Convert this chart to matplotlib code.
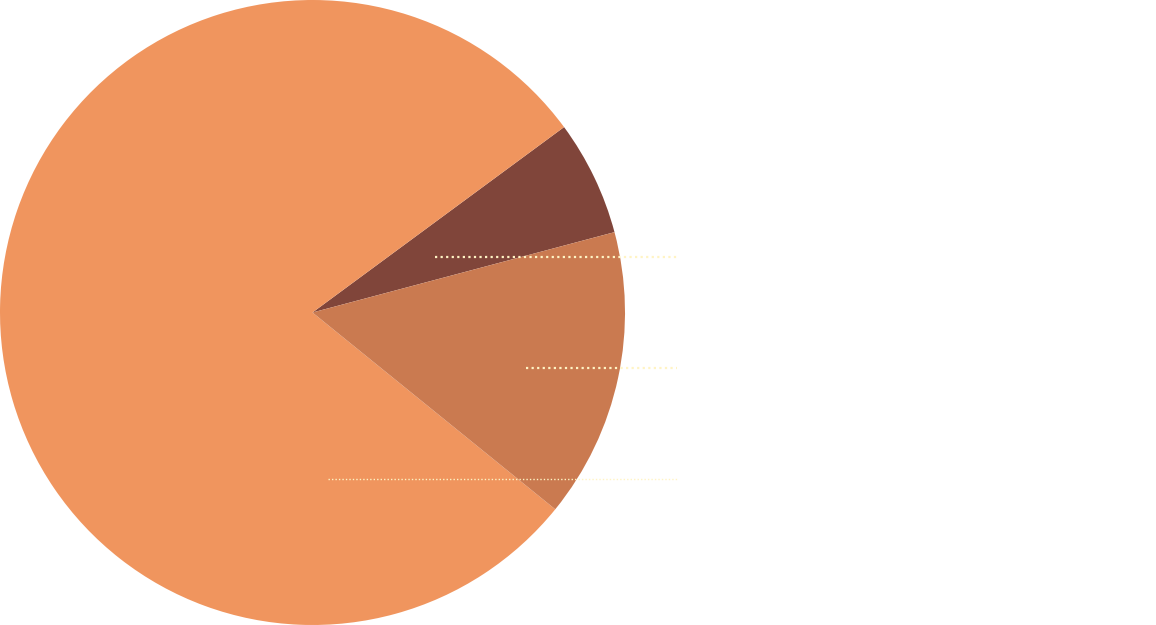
import matplotlib.pyplot as plt

# slice shares (percent), counter-clockwise from start angle
sizes = [5.97, 79.05, 14.98]
colors = ['#80453a', '#f0955e', '#ca7a50']
start = 14.9

# leader lines: (x start, y level) in pie units, all end at x_end
lead_x = [0.393, 0.684, 0.048]
lead_y = [0.179, -0.179, -0.533]
lead_w = [1.6, 1.6, 1.0]
x_end = 1.165

fig = plt.figure(figsize=(11.56, 6.25), dpi=100)
ax = fig.add_axes([0, 0, 1, 1])
ax.pie(sizes, colors=colors, startangle=start, counterclock=True,
       radius=1, center=(0, 0), wedgeprops=dict(linewidth=0))
for x0, y0, w in zip(lead_x, lead_y, lead_w):
    ax.plot([x0, x_end], [y0, y0], color='#fff4c4', linestyle=(0, (1, 1.5)), lw=w)
ax.set_xlim(-1, -1 + 2 * 1156 / 625)
ax.set_ylim(-1, 1)
ax.set_aspect('equal', adjustable='box', anchor='W')
ax.axis('off')
plt.savefig('out.png', dpi=100)
